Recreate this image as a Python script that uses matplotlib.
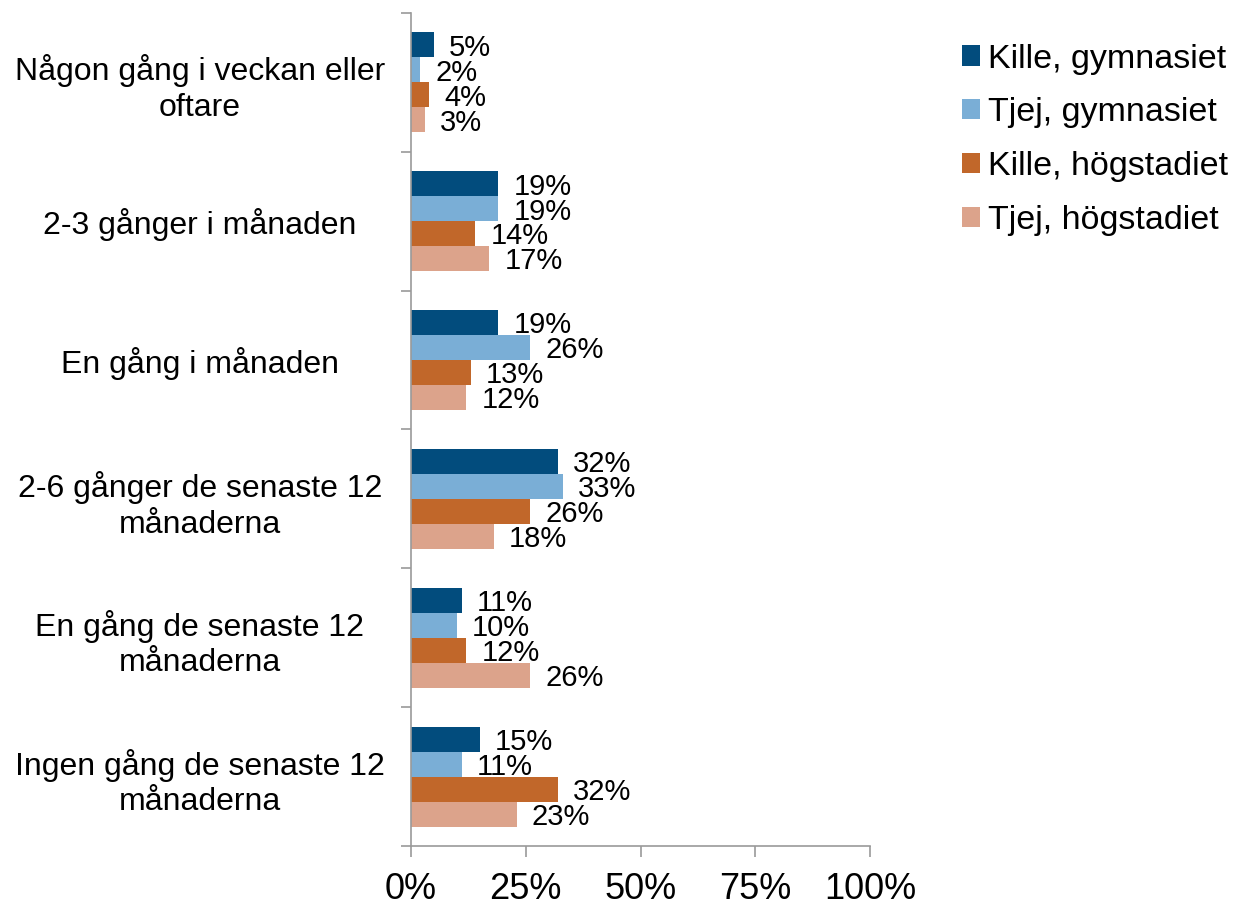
import matplotlib
matplotlib.use("Agg")
import matplotlib.pyplot as plt
import numpy as np

plt.rcParams['font.family'] = ['Liberation Sans', 'DejaVu Sans']

categories = ["Någon gång i veckan eller\noftare", "2-3 gånger i månaden", "En gång i månaden",
              "2-6 gånger de senaste 12\nmånaderna", "En gång de senaste 12\nmånaderna",
              "Ingen gång de senaste 12\nmånaderna"]
series_names = ["Kille, gymnasiet", "Tjej, gymnasiet", "Kille, högstadiet", "Tjej, högstadiet"]
kille_gymn = [5, 19, 19, 32, 11, 15]
tjej_gymn = [2, 19, 26, 33, 10, 11]
kille_hog = [4, 14, 13, 26, 12, 32]
tjej_hog = [3, 17, 12, 18, 26, 23]
x_ticks = [0, 25, 50, 75, 100]
x_tick_labels = ["0%", "25%", "50%", "75%", "100%"]

colors = ["#024C7D", "#7AAED6", "#C1672A", "#DCA38B"]
series = [kille_gymn, tjej_gymn, kille_hog, tjej_hog]

fig = plt.figure(figsize=(12.38, 9.07), dpi=100)
ax = fig.add_axes([0.332, 0.0673, 0.3708, 0.9184])

n = len(categories)
y = np.arange(n)
h = 0.18
handles = []
for i, (vals, c, name) in enumerate(zip(series, colors, series_names)):
    pos = y + (i - 1.5) * h
    b = ax.barh(pos, vals, height=h, color=c, label=name)
    handles.append(b)
    for p, v in zip(pos, vals):
        ax.annotate(f"{v}%", (v, p), xytext=(11, -2), textcoords="offset points",
                    ha="left", va="center", fontsize=21)

ax.set_xlim(0, 100)
ax.set_ylim(n - 0.5, -0.5)
ax.set_xticks(x_ticks)
ax.set_xticklabels(x_tick_labels, fontsize=26)
ax.set_yticks(np.arange(n + 1) - 0.5)
ax.set_yticklabels([])
ax.set_yticks(y, minor=True)
ax.set_yticklabels(categories, minor=True, fontsize=23, ha="center", linespacing=1.25)
ax.tick_params(axis="y", which="minor", length=0, pad=152)
ax.tick_params(axis="y", which="major", length=7, color="#9a9a9a", width=1.2)
ax.tick_params(axis="x", length=8, color="#9a9a9a", width=1.2, pad=11)
for s in ["top", "right"]:
    ax.spines[s].set_visible(False)
for s in ["left", "bottom"]:
    ax.spines[s].set_color("#9a9a9a")
    ax.spines[s].set_linewidth(1.2)

fig.legend(handles=handles, labels=series_names, loc="upper left", bbox_to_anchor=(0.777, 0.952),
           frameon=False, fontsize=24.5, handlelength=0.53, handleheight=0.53, handletextpad=0.25,
           labelspacing=0.67, borderpad=0, borderaxespad=0)

fig.savefig("out.png", dpi=100)
